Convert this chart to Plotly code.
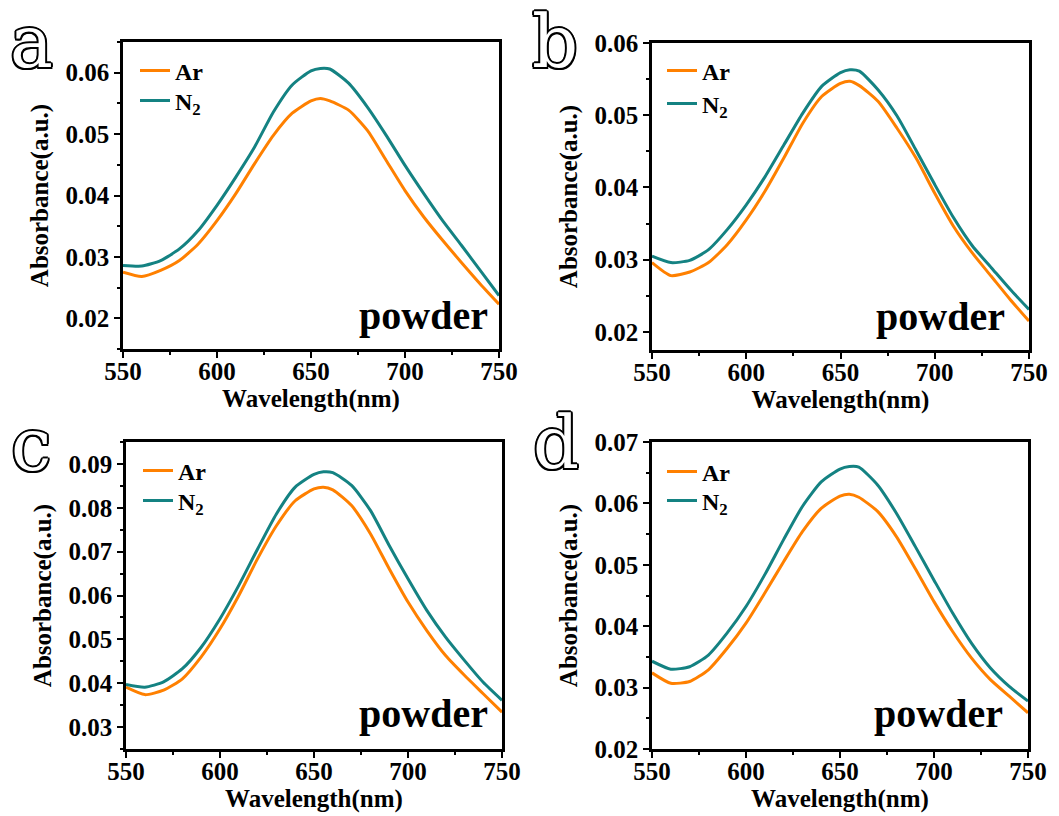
import plotly.graph_objects as go

wavelength = [550, 560, 570, 580, 590, 600, 610, 620, 630, 640, 650, 655, 660,
              670, 680, 690, 700, 710, 720, 730, 740, 750]

a_ar = [0.0275, 0.0268, 0.0278, 0.0294, 0.0321, 0.0359, 0.0403, 0.0452, 0.0498, 0.0534, 0.0554,
        0.0558, 0.0554, 0.0539, 0.0506, 0.0457, 0.0408, 0.0365, 0.0327, 0.0291, 0.0256, 0.0223]
a_n2 = [0.0286, 0.0285, 0.0294, 0.0313, 0.0343, 0.0384, 0.0430, 0.0479, 0.0536, 0.0580, 0.0603,
        0.0607, 0.0606, 0.0583, 0.0544, 0.0498, 0.0449, 0.0403, 0.0359, 0.0319, 0.0278, 0.0237]
b_ar = [0.0296, 0.0278, 0.0283, 0.0296, 0.0321, 0.0355, 0.0395, 0.0441, 0.0489, 0.0526, 0.0544,
        0.0547, 0.0541, 0.0519, 0.0482, 0.0441, 0.0392, 0.0346, 0.0309, 0.0277, 0.0245, 0.0215]
b_n2 = [0.0305, 0.0296, 0.0299, 0.0314, 0.0342, 0.0376, 0.0415, 0.0459, 0.0503, 0.0540, 0.0559,
        0.0563, 0.0561, 0.0535, 0.0499, 0.0452, 0.0404, 0.0358, 0.0319, 0.0289, 0.0259, 0.0231]
c_ar = [0.0391, 0.0374, 0.0384, 0.0410, 0.0460, 0.0524, 0.0600, 0.0684, 0.0759, 0.0816, 0.0843,
        0.0847, 0.0841, 0.0805, 0.0741, 0.0661, 0.0585, 0.0520, 0.0463, 0.0418, 0.0376, 0.0334]
c_n2 = [0.0397, 0.0391, 0.0403, 0.0433, 0.0482, 0.0547, 0.0623, 0.0706, 0.0786, 0.0847, 0.0876,
        0.0882, 0.0880, 0.0851, 0.0794, 0.0714, 0.0638, 0.0566, 0.0505, 0.0452, 0.0402, 0.0361]
d_ar = [0.0324, 0.0307, 0.0310, 0.0329, 0.0364, 0.0405, 0.0454, 0.0505, 0.0554, 0.0592, 0.0612,
        0.0615, 0.0610, 0.0587, 0.0546, 0.0494, 0.0440, 0.0391, 0.0348, 0.0313, 0.0286, 0.0259]
d_n2 = [0.0343, 0.0330, 0.0334, 0.0353, 0.0389, 0.0432, 0.0484, 0.0541, 0.0595, 0.0635, 0.0656,
        0.0660, 0.0659, 0.0630, 0.0584, 0.0530, 0.0475, 0.0421, 0.0372, 0.0332, 0.0302, 0.0278]

panel_labels = ["a", "b", "c", "d"]
series_names = ["Ar", "N<sub>2</sub>"]
y_ranges = [[0.015, 0.065], [0.0175, 0.06], [0.025, 0.095], [0.02, 0.07]]
y_ticks = [[0.02, 0.03, 0.04, 0.05, 0.06],
           [0.02, 0.03, 0.04, 0.05, 0.06],
           [0.03, 0.04, 0.05, 0.06, 0.07, 0.08, 0.09],
           [0.02, 0.03, 0.04, 0.05, 0.06, 0.07]]
x_ticks = [550, 600, 650, 700, 750]

W, H = 1059, 816
# plot boxes in pixels: left, right, top, bottom
boxes = [(123, 499, 42, 349), (652, 1029, 43, 350), (126, 502, 442, 749), (652, 1028, 442, 749)]
# legend item positions (line start x, Ar centre y, N2 centre y)
legend_pos = [(141, 71, 101), (668, 71, 104), (144, 471, 501), (668, 472, 501)]
letter_pos = [(31, 42), (555, 42), (31, 445), (556, 443)]

ORANGE = "#FF8000"
TEAL = "#148282"
FONT = "Liberation Serif"

data = [(a_ar, a_n2), (b_ar, b_n2), (c_ar, c_n2), (d_ar, d_n2)]

fig = go.Figure()
layout = dict(width=W, height=H, margin=dict(l=0, r=0, t=0, b=0, autoexpand=False),
              template="none",
              paper_bgcolor="white", plot_bgcolor="white", showlegend=True,
              font=dict(family=FONT, color="black"))
annotations = []

for i, (ar, n2) in enumerate(data):
    k = "" if i == 0 else str(i + 1)
    lx, ly_ar, ly_n2 = legend_pos[i]
    for j, (vals, name, col, ly) in enumerate([(ar, series_names[0], ORANGE, ly_ar),
                                               (n2, series_names[1], TEAL, ly_n2)]):
        n = 2 * i + j + 1
        lg = "legend" if n == 1 else "legend%d" % n
        fig.add_trace(go.Scatter(x=wavelength, y=vals, mode="lines", name=name,
                                 line=dict(color=col, width=3, shape="spline", smoothing=0.6),
                                 xaxis="x" + k, yaxis="y" + k, legend=lg))
        layout[lg] = dict(x=(lx - 6) / W, y=1 - ly / H, xanchor="left", yanchor="middle",
                          bgcolor="rgba(0,0,0,0)", borderwidth=0,
                          font=dict(family=FONT, size=24, weight="bold", color="black"))
    l, r, t, b = boxes[i]
    common = dict(showline=True, linecolor="black", linewidth=2.5, mirror=True,
                  ticks="outside", ticklen=6, tickwidth=2, tickcolor="black",
                  showgrid=False, zeroline=False, automargin=False,
                  tickfont=dict(family=FONT, size=25, weight="bold", color="black"),
                  minor=dict(ticks="outside", ticklen=3, tickwidth=1.5, tickcolor="black"))
    layout["xaxis" + k] = dict(common, domain=[l / W, r / W], range=[550, 750],
                               anchor="y" + k, tickvals=x_ticks, ticklabelstandoff=-8,
                               minor=dict(common["minor"], dtick=25, tick0=550),
                               title=dict(text="Wavelength(nm)", standoff=3,
                                          font=dict(family=FONT, size=25, weight="bold")))
    layout["yaxis" + k] = dict(common, domain=[1 - b / H, 1 - t / H], range=y_ranges[i],
                               anchor="x" + k, tickvals=y_ticks[i],
                               ticktext=["%.2f" % v for v in y_ticks[i]],
                               minor=dict(common["minor"], dtick=0.005, tick0=0),
                               title=dict(text="Absorbance(a.u.)", standoff=10,
                                          font=dict(family=FONT, size=25, weight="bold")))
    # powder label
    annotations.append(dict(text="powder", xref="x%s domain" % k, yref="y%s domain" % k,
                            x=[0.976, 0.942, 0.968, 0.939][i], y=[0.03, 0.03, 0.036, 0.036][i],
                            xanchor="right", yanchor="bottom", showarrow=False,
                            font=dict(family=FONT, size=40, weight="bold", color="black")))
    px, py = letter_pos[i]
    annotations.append(dict(text=panel_labels[i], xref="paper", yref="paper",
                            x=px / W, y=1 - py / H, xanchor="center", yanchor="middle",
                            showarrow=False,
                            font=dict(family="DejaVu Serif", size=72, color="white",
                                      shadow="-1.5px -1.5px 0 #000, 1.5px -1.5px 0 #000, -1.5px 1.5px 0 #000, 1.5px 1.5px 0 #000, 0 2px 0 #000, 0 -2px 0 #000, 2px 0 0 #000, -2px 0 0 #000")))

layout["annotations"] = annotations
fig.update_layout(**layout)
fig.write_html("out.html")
